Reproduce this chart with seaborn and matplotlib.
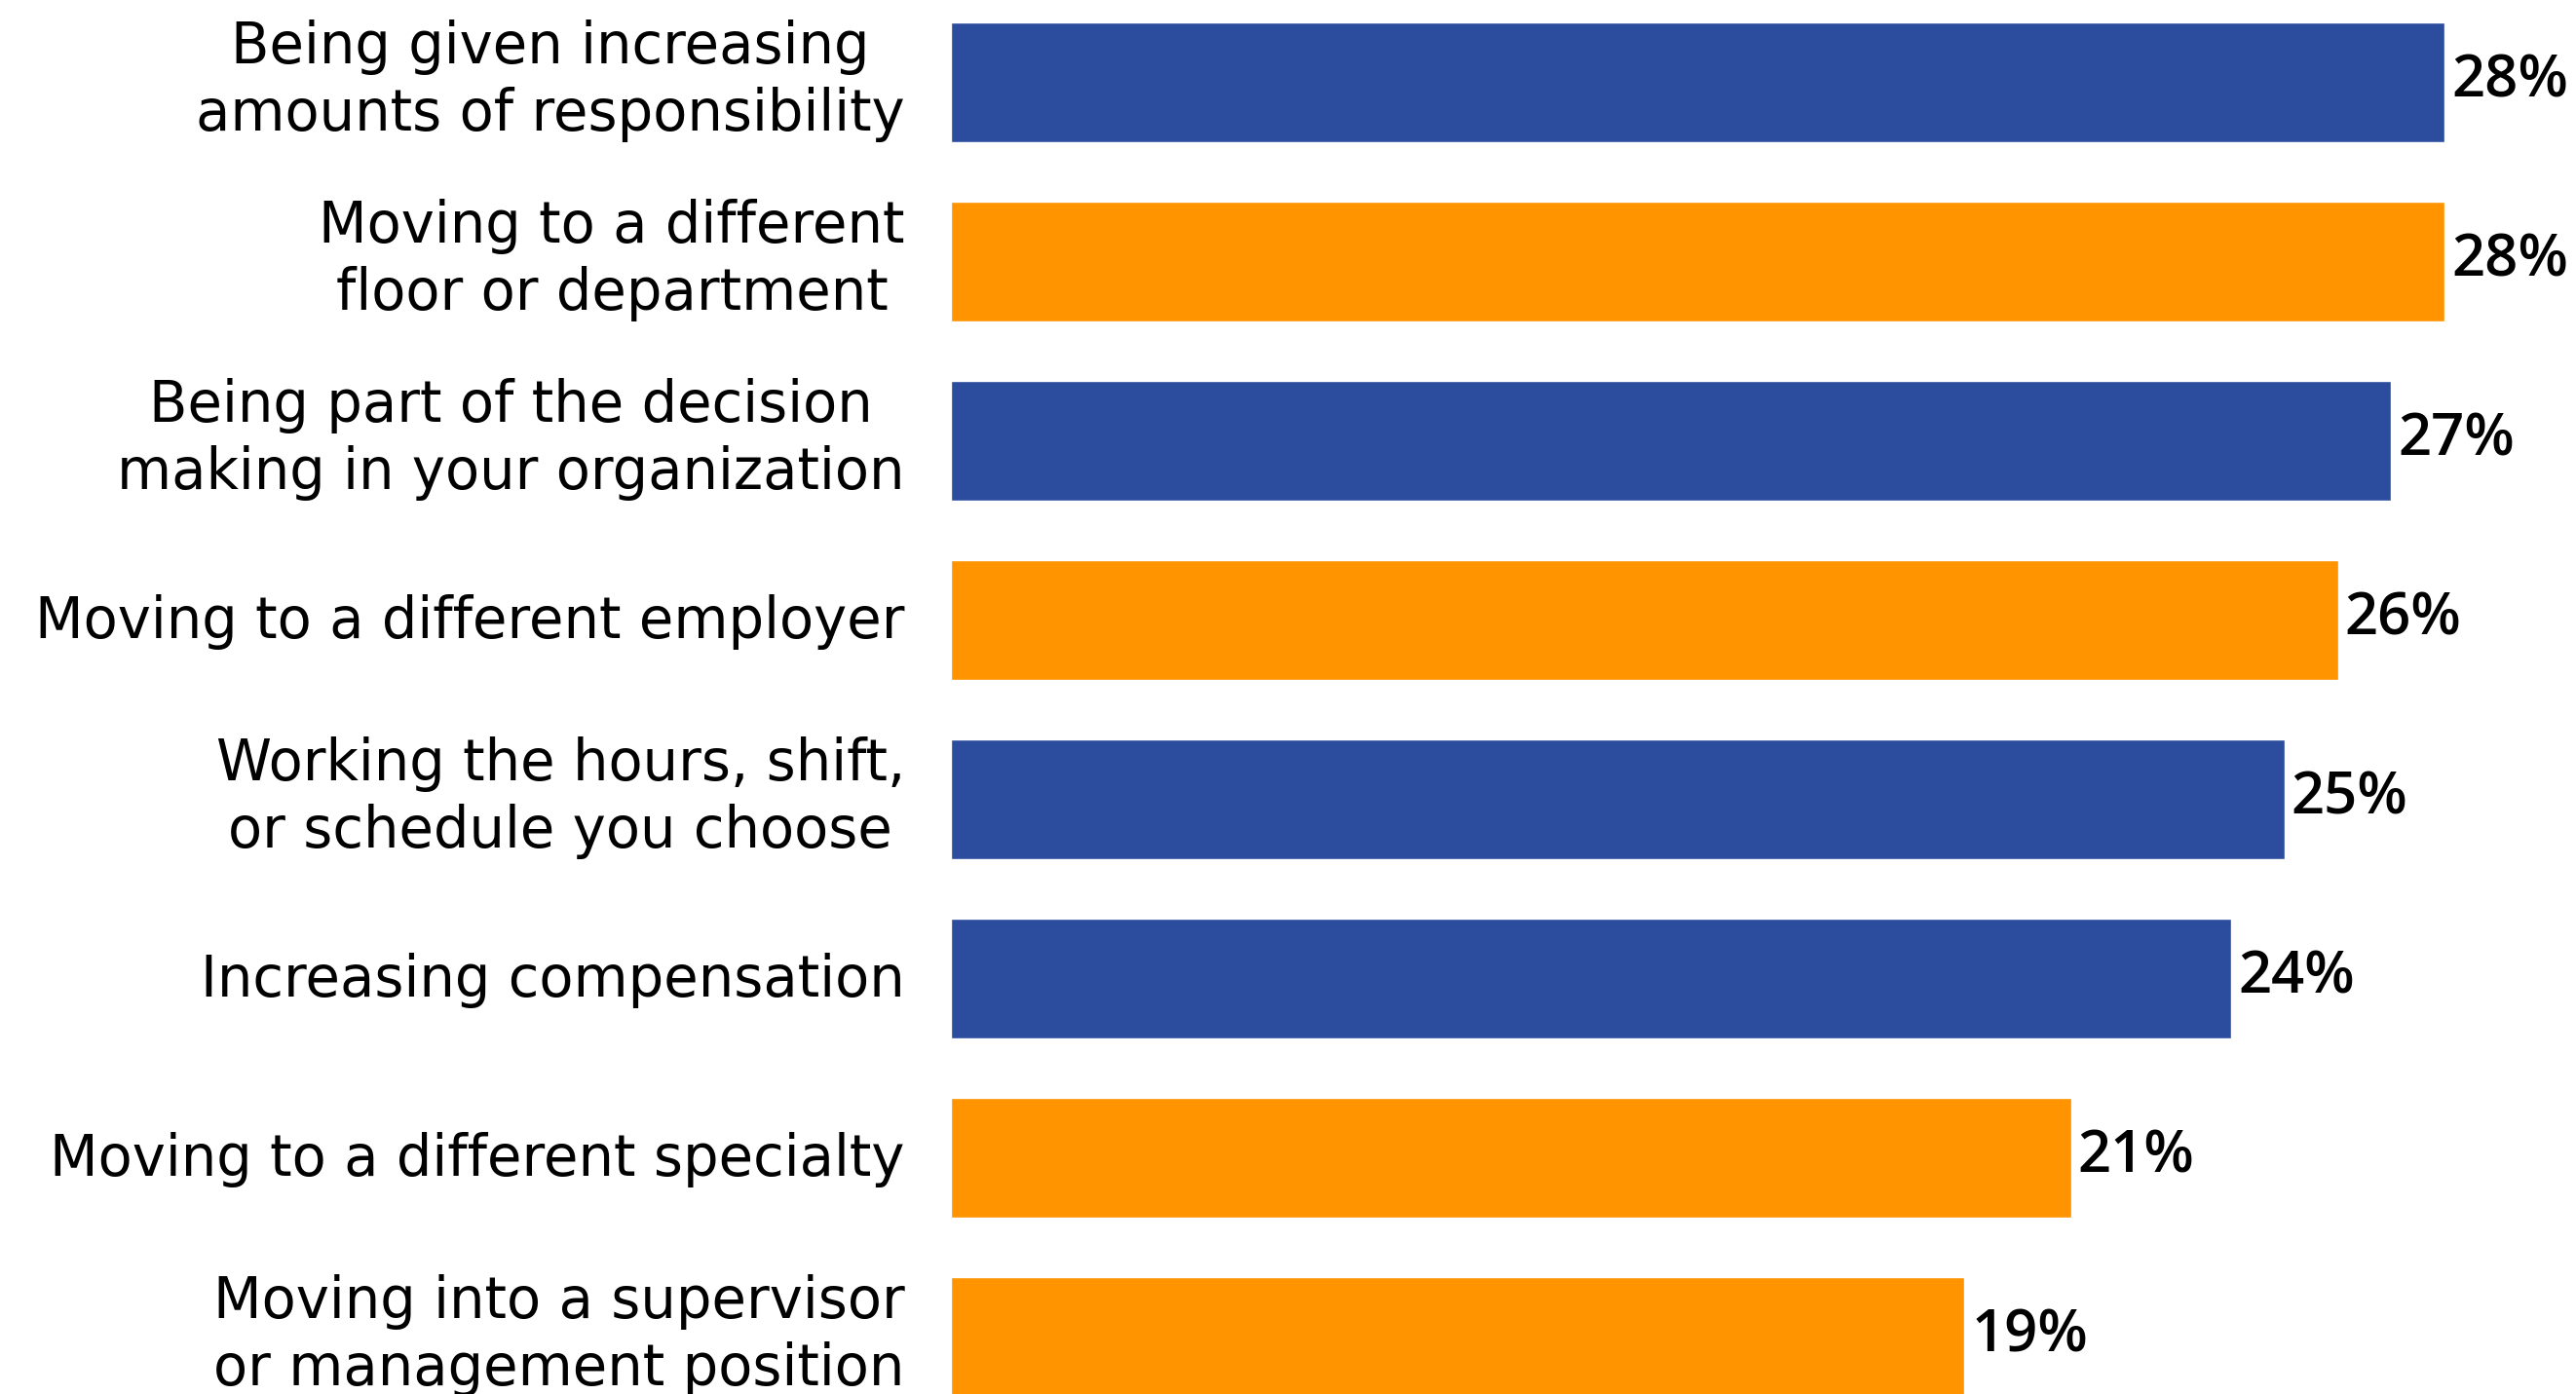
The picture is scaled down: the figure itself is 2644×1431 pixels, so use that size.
import matplotlib
matplotlib.use("Agg")
import matplotlib.pyplot as plt
import seaborn as sns
import pandas as pd

# Survey items, top to bottom
categories = [
    "Being given increasing\namounts of responsibility",
    "Moving to a different\nfloor or department",
    "Being part of the decision\nmaking in your organization",
    "Moving to a different employer",
    "Working the hours, shift,\nor schedule you choose",
    "Increasing compensation",
    "Moving to a different specialty",
    "Moving into a supervisor\nor management position",
]
values = [28, 28, 27, 26, 25, 24, 21, 19]
groups = ["blue", "orange", "blue", "orange", "blue", "blue", "orange", "orange"]

palette = {"blue": "#2C4C9E", "orange": "#FF9400"}

sns.set_theme(style="white")
plt.rcParams["font.family"] = ["Open Sans", "DejaVu Sans"]

df = pd.DataFrame({"item": categories, "value": values, "group": groups})

W, H, DPI = 2644, 1431, 100
fig = plt.figure(figsize=(W / DPI, H / DPI), dpi=DPI)
left_px = 976
px_per_unit = 54.75
xmax = 30
ax = fig.add_axes([left_px / W, 0, xmax * px_per_unit / W, 1])

sns.barplot(data=df, x="value", y="item", hue="group", palette=palette,
            dodge=False, width=0.67, legend=False, ax=ax, saturation=1)

pitch = 184.0
top_center = 84.5
ax.set_xlim(0, xmax)
ax.set_ylim((H - top_center) / pitch, -top_center / pitch)

# value labels at the bar ends
for i, v in enumerate(values):
    ax.annotate(f"{v}%", xy=(v, i), xytext=(5, 0), textcoords="offset points",
                va="center", ha="left", fontsize=43, fontweight="semibold",
                color="black", annotation_clip=False)

# category labels, right-aligned left of the bars, lines centered
ax.set_yticks([])
for i, name in enumerate(categories):
    dy = 1.0 if "\n" in name else -1.5
    ax.annotate(name, xy=(0, i), xytext=(-34, dy), textcoords="offset points",
                ha="right", va="center", multialignment="center",
                fontsize=41.5, family=["DejaVu Sans"], linespacing=1.25,
                color="black", annotation_clip=False)

ax.set_xlabel("")
ax.set_ylabel("")
ax.set_xticks([])
for s in ax.spines.values():
    s.set_visible(False)

fig.savefig("out.png", dpi=DPI)
